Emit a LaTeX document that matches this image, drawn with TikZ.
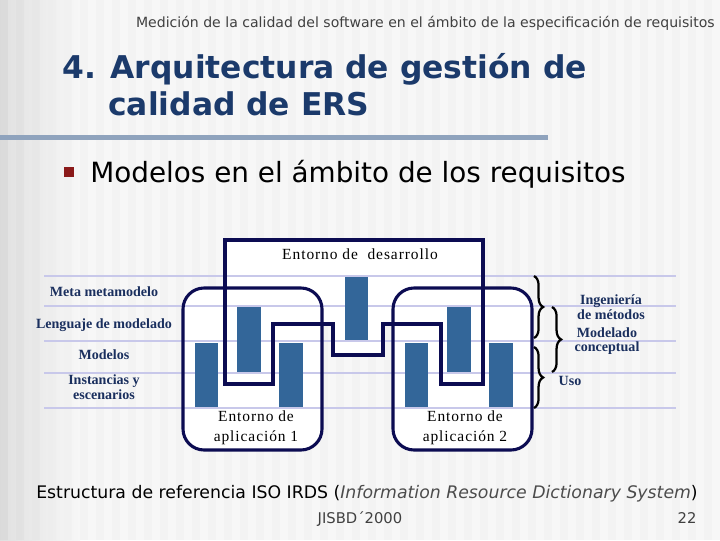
\documentclass[tikz,border=0pt]{standalone}
\usepackage{fontspec}
\setmainfont{Liberation Serif}
\setsansfont{DejaVu Sans}
\newfontfamily\espaciada[LetterSpace=6]{Liberation Serif}
\usetikzlibrary{decorations.pathreplacing}
\definecolor{cTitulo}{HTML}{1B3A6B}
\definecolor{cAzul}{HTML}{1A2F5E}
\definecolor{cBarra}{HTML}{336699}
\definecolor{cMarco}{HTML}{0C0C52}
\definecolor{cNivel}{HTML}{C8C8EA}
\definecolor{cRegla}{HTML}{8FA3BD}
\definecolor{cVineta}{HTML}{8B1A1A}
\begin{document}
\begin{tikzpicture}[x=0.025cm,y=-0.025cm]
		\tikzstyle{every node}+=[inner sep=0pt]
		\tikzstyle{nivel}=[draw=cNivel,line width=1.8pt]
		\tikzstyle{barra}=[fill=cBarra]
		\tikzstyle{marco}=[draw=cMarco,line width=2.2pt]
		\tikzstyle{etiq}=[font=\bfseries\fontsize{10}{10.5}\selectfont,text=cAzul,align=center]
		\tikzstyle{entorno}=[font=\espaciada\fontsize{11}{14.5}\selectfont,align=center]
		\tikzstyle{llave}=[draw=black,line width=1.6pt,decorate,decoration={brace,amplitude=6.5pt}]
		\useasboundingbox (0,0) rectangle (720,540);
		% fondo
		\fill [black!3] (0,0) rectangle (720,540);
		\shade [left color=black!12,right color=black!3] (0,0) rectangle (80,540);
		\foreach \i in {0,...,44} {
			\pgfmathsetmacro{\g}{max(6,16-3*\i)}
			\fill [black!\g,opacity=0.5] (\i*16,0) rectangle ++(8,540);
		}
		% cabecera
		\node (hdr) [anchor=base east,font=\sffamily\fontsize{10}{12}\selectfont,text=black!75] at (715,27) {Medición de la calidad del software en el ámbito de la especificación de requisitos};
		\node (tit1) [anchor=base west,font=\sffamily\bfseries\fontsize{22.3}{26}\selectfont,text=cTitulo] at (62,78) {4. Arquitectura de gestión de};
		\node (tit2) [anchor=base west,font=\sffamily\bfseries\fontsize{22.3}{26}\selectfont,text=cTitulo] at (108,115) {calidad de ERS};
		\fill [cRegla] (0,134.5) rectangle (548,139.5);
		\fill [cVineta] (64,167) rectangle (74,177);
		\node (sub) [anchor=base west,font=\sffamily\fontsize{19.8}{22}\selectfont] at (90,182) {Modelos en el ámbito de los requisitos};
		% entornos (relleno)
		\fill [white] (225,240) -- (225,384) -- (273,384) -- (273,324) -- (333,324) -- (333,355) -- (383,355) -- (383,324) -- (441,324) -- (441,384) -- (483,384) -- (483,240) -- cycle;
		\fill [white,rounded corners=15] (183,288) rectangle (322,450);
		\fill [white,rounded corners=15] (393,288) rectangle (532,450);
		% niveles
		\foreach \y in {276,306,341,373,408}
			\draw [nivel] (44,\y) -- (676,\y);
		% barras
		\fill [barra] (195,343) rectangle (218,407);
		\fill [barra] (237,307) rectangle (261,372);
		\fill [barra] (279,343) rectangle (303,407);
		\fill [barra] (345,277) rectangle (368,340);
		\fill [barra] (405,343) rectangle (428,407);
		\fill [barra] (447,307) rectangle (471,372);
		\fill [barra] (489,343) rectangle (513,407);
		% entornos (contorno)
		\draw [marco] (225,240) -- (225,384) -- (273,384) -- (273,324) -- (333,324) -- (333,355) -- (383,355) -- (383,324) -- (441,324) -- (441,384) -- (483,384) -- (483,240) -- cycle;
		\draw [marco,rounded corners=15] (183,288) rectangle (322,450);
		\draw [marco,rounded corners=15] (393,288) rectangle (532,450);
		\node (desa) [entorno] at (360,254) {Entorno de \ desarrollo};
		\node (apl1) [entorno] at (256,428) {Entorno de\\aplicación 1};
		\node (apl2) [entorno] at (465,428) {Entorno de\\aplicación 2};
		% niveles (nombres)
		\node (meta) [etiq] at (104,292) {Meta metamodelo};
		\node (leng) [etiq] at (104,325) {Lenguaje de modelado};
		\node (mode) [etiq] at (104,355) {Modelos};
		\node (inst) [etiq] at (104,387) {Instancias y\\escenarios};
		% llaves
		\coordinate (ll1a) at (534,276);
		\coordinate (ll1b) at (534,338);
		\coordinate (ll2a) at (552,307);
		\coordinate (ll2b) at (552,372);
		\coordinate (ll3a) at (534,347);
		\coordinate (ll3b) at (534,408);
		\draw [llave] (ll1a) -- (ll1b);
		\draw [llave] (ll2a) -- (ll2b);
		\draw [llave] (ll3a) -- (ll3b);
		\node (inge) [etiq] at (611,307) {Ingeniería\\de métodos};
		\node (conc) [etiq] at (607,341) {Modelado\\conceptual};
		\node (uso) [etiq] at (570,381) {Uso};
		% pie
		\node (pie) [anchor=base,font=\sffamily\fontsize{12.3}{14}\selectfont] at (367,498) {Estructura de referencia ISO IRDS (\textit{\textcolor{black!70}{Information Resource Dictionary System}})};
		\node (conf) [anchor=base,font=\sffamily\fontsize{10.5}{12}\selectfont,text=black!75] at (360,523) {JISBD´2000};
		\node (pag) [anchor=base,font=\sffamily\fontsize{10.5}{12}\selectfont,text=black!75] at (687,523) {22};
	\end{tikzpicture}
\end{document}
